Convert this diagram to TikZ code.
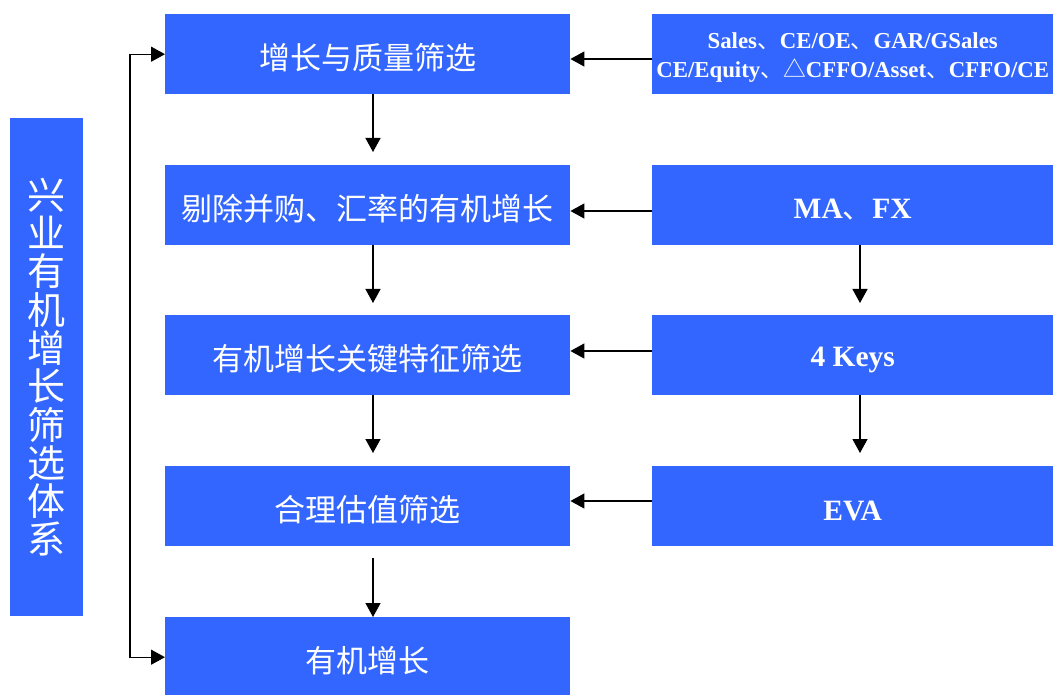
\documentclass[tikz,border=0pt]{standalone}
\usepackage{fontspec}
\setmainfont{Liberation Serif}
\newfontfamily\cjk{Noto Sans CJK SC}
\usetikzlibrary{arrows.meta,calc}
\definecolor{boxblue}{HTML}{3366FF}
\newcommand{\shiftdown}[2]{\raisebox{-#1}[\height][\depth]{#2}}
\tikzset{
  bluebox/.style={fill=boxblue, draw=none, text=white, inner sep=0pt, anchor=north west},
  leftbox/.style={bluebox, minimum width=405pt, minimum height=80pt, font=\cjk\fontsize{31}{34}\selectfont},
  rightbox/.style={bluebox, minimum width=401pt, minimum height=80pt, font=\bfseries\fontsize{29.5}{32}\selectfont},
  arr/.style={line width=1.3pt, -{Triangle[length=14pt,width=15pt]}},
  arrboth/.style={line width=1.3pt, {Triangle[length=14pt,width=15pt]}-{Triangle[length=14pt,width=15pt]}}
}
\newcommand{\dun}{{\normalfont\cjk 、}}
\begin{document}
\begin{tikzpicture}[x=1pt,y=1pt]
\useasboundingbox (0,0) rectangle (1053,-695);
% tall box
\node[bluebox, minimum width=73pt, minimum height=498pt, align=center,
  font=\cjk\fontsize{38}{38.3}\selectfont] (T) at (10,-118)
  {兴\\业\\有\\机\\增\\长\\筛\\选\\体\\系};
% left column
\node[leftbox] (L1) at (165,-14) {\shiftdown{3.5pt}{增长与质量筛选}};
\node[leftbox] (L2) at (165,-165) {\shiftdown{3.5pt}{剔除并购、汇率的有机增长}};
\node[leftbox] (L3) at (165,-315) {\shiftdown{3.5pt}{有机增长关键特征筛选}};
\node[leftbox] (L4) at (165,-466) {\shiftdown{3.5pt}{合理估值筛选}};
\node[leftbox] (L5) at (165,-617) {\shiftdown{3.5pt}{有机增长}};
% right column
\node[rightbox, font=\bfseries\fontsize{22.8}{29}\selectfont] (R1) at (652,-14)
  {\shiftdown{3pt}{\begin{tabular}{@{}c@{}}Sales\dun CE/OE\dun GAR/GSales\\CE/Equity\dun{\normalfont\cjk △}CFFO/Asset\dun CFFO/CE\end{tabular}}};
\node[rightbox] (R2) at (652,-165) {\shiftdown{4.5pt}{MA\dun FX}};
\node[rightbox] (R3) at (652,-315) {\shiftdown{4.5pt}{4 Keys}};
\node[rightbox] (R4) at (652,-466) {\shiftdown{4.5pt}{EVA}};
% helper coordinates
\coordinate (xl) at (373,0);
\coordinate (xr) at (860,0);
\coordinate (xb) at (130,0);
\coordinate (a1) at (373,-152);
\coordinate (a2) at (373,-303);
\coordinate (a3) at (373,-453);
\coordinate (a4s) at (373,-558);
\coordinate (r2) at (860,-303);
\coordinate (r3) at (860,-453);
\coordinate (h1) at (0,-59);
\coordinate (h2) at (0,-211);
\coordinate (h3) at (0,-351);
\coordinate (h4) at (0,-501);
% vertical arrows, left
\draw[arr] (L1.south -| xl) -- (a1);
\draw[arr] (L2.south -| xl) -- (a2);
\draw[arr] (L3.south -| xl) -- (a3);
\draw[arr] (a4s) -- (L5.north -| xl);
% vertical arrows, right
\draw[arr] (R2.south -| xr) -- (r2);
\draw[arr] (R3.south -| xr) -- (r3);
% horizontal arrows
\draw[arr] (R1.west |- h1) -- (L1.east |- h1);
\draw[arr] (R2.west |- h2) -- (L2.east |- h2);
\draw[arr] (R3.west |- h3) -- (L3.east |- h3);
\draw[arr] (R4.west |- h4) -- (L4.east |- h4);
% bracket
\draw[arrboth] (L1.west) -- (L1.west -| xb) -- (L5.west -| xb) -- (L5.west);
\end{tikzpicture}
\end{document}
